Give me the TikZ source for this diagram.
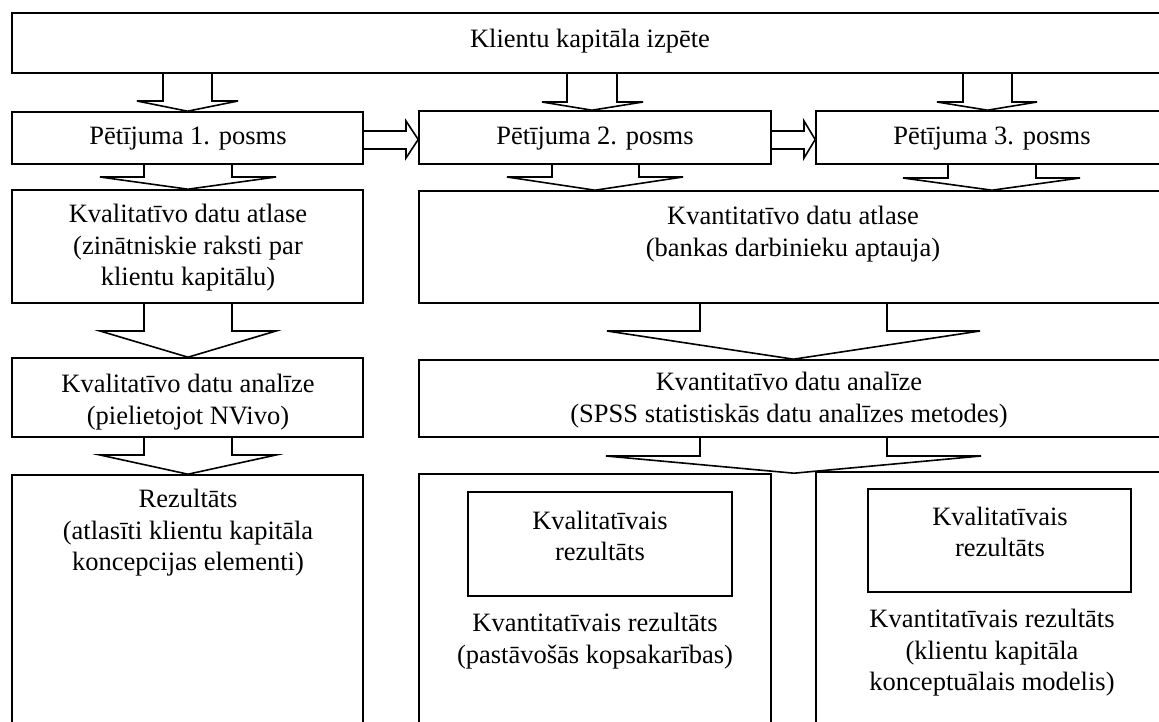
\documentclass[tikz,border=0pt]{standalone}
\usepackage{fontspec}
\setmainfont{Liberation Serif}
\usetikzlibrary{fit}

\tikzset{
  box/.style={draw, line width=1.6pt, rectangle, inner sep=0pt},
  blk/.style={draw, line width=1.6pt, line join=miter},
  lbl/.style={align=center, font=\fontsize{26.5}{31.5}\selectfont, inner sep=0pt},
}

% rectangle node spanning two corners
\newcommand\mybox[5]{%
  \path (#2,#3) coordinate (#1-nw) (#4,#5) coordinate (#1-se);
  \node[box, fit=(#1-nw)(#1-se)] (#1) {};}

% downward block arrow: src, tgt, shaft left/right, head left/right, tip x, head base y
\newcommand\dblock[8]{%
  \draw[blk] (#3,0 |- #1.south) -- (#3,#8) -- (#5,#8) -- (#7,0 |- #2.north)
    -- (#6,#8) -- (#4,#8) -- (#4,0 |- #1.south);}

% rightward block arrow: src, tgt, shaft top/bottom, head top/bottom, tip y, head base x
\newcommand\rblock[8]{%
  \draw[blk] (#1.east |- 0,#3) -- (#8,#3) -- (#8,#5) -- (#2.west |- 0,#7)
    -- (#8,#6) -- (#8,#4) -- (#1.east |- 0,#4);}

\begin{document}
\begin{tikzpicture}[x=1pt, y=-1pt]
\useasboundingbox (0,0) rectangle (1159,722);
\clip (0,0) rectangle (1159,722);

% boxes
\mybox{top}{12}{13}{1167}{73}
\mybox{pA}{12}{112}{363}{164}
\mybox{pB}{419}{111}{771}{164}
\mybox{pC}{816}{111}{1167}{164}
\mybox{qlSel}{12}{190}{363}{303}
\mybox{qnSel}{419}{191}{1167}{303}
\mybox{qlAn}{12}{358}{363}{437}
\mybox{qnAn}{419}{360}{1167}{437}
\mybox{resA}{12}{475}{363}{740}
\mybox{resB}{419}{474}{771}{740}
\mybox{resC}{816}{472}{1167}{740}
\mybox{innB}{468}{492}{732}{596}
\mybox{innC}{868}{489}{1131}{592}

% block arrows
\dblock{top}{pA}{163}{212}{137}{238}{187.5}{101}
\dblock{top}{pB}{567}{617}{542}{643}{592}{102}
\dblock{top}{pC}{963}{1012}{937}{1037}{987.5}{102}
\rblock{pA}{pB}{131}{149}{121}{158}{139.5}{406}
\rblock{pB}{pC}{131}{149}{121}{158}{139.5}{804}
\dblock{pA}{qlSel}{144}{232}{100}{276}{188}{177}
\dblock{pB}{qnSel}{552}{639}{507}{683}{595}{177}
\dblock{pC}{qnSel}{948}{1036}{903}{1080}{992}{178}
\dblock{qlSel}{qlAn}{144}{232}{100}{276}{188}{331}
\dblock{qnSel}{qnAn}{700}{887}{607}{980}{793.5}{331}
\dblock{qlAn}{resA}{144}{232}{100}{276}{188}{455}
\dblock{qnAn}{resB}{700}{887}{606}{981}{794}{456}

% labels
\node[lbl] (tTop) at (590,41) {Klientu kapitāla izpēte};
\node[lbl] (tA) at (188,139) {Pētījuma 1. posms};
\node[lbl] (tB) at (595,139) {Pētījuma 2. posms};
\node[lbl] (tC) at (992,139) {Pētījuma 3. posms};
\node[lbl] (tqlSel) at (188,248) {Kvalitatīvo datu atlase\\(zinātniskie raksti par\\klientu kapitālu)};
\node[lbl] (tqnSel) at (793,234) {Kvantitatīvo datu atlase\\(bankas darbinieku aptauja)};
\node[lbl] (tqlAn) at (188,402) {Kvalitatīvo datu analīze\\(pielietojot NVivo)};
\node[lbl] (tqnAn) at (789,400) {Kvantitatīvo datu analīze\\(SPSS statistiskās datu analīzes metodes)};
\node[lbl] (tresA) at (188,533) {Rezultāts\\(atlasīti klientu kapitāla\\koncepcijas elementi)};
\node[lbl] (tinnB) at (600,536) {Kvalitatīvais\\rezultāts};
\node[lbl] (tresB) at (595,641) {Kvantitatīvais rezultāts\\(pastāvošās kopsakarības)};
\node[lbl] (tinnC) at (1000,532) {Kvalitatīvais\\rezultāts};
\node[lbl] (tresC) at (992,653) {Kvantitatīvais rezultāts\\(klientu kapitāla\\konceptuālais modelis)};
\end{tikzpicture}
\end{document}
